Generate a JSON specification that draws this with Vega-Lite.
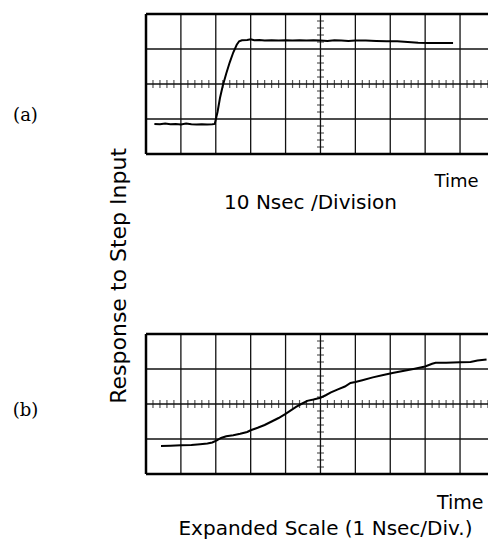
{
  "$schema": "https://vega.github.io/schema/vega-lite/v6.json",
  "background": "white",
  "padding": {"left": 12, "top": 12, "right": 0, "bottom": 0},
  "title": {"text": "Response to Step Input", "orient": "left", "anchor": "middle", "offset": -136, "dy": 0, "font": "DejaVu Sans", "fontSize": 22, "fontWeight": "normal", "color": "black", "baseline": "alphabetic"},
  "spacing": 180,
  "bounds": "flush",
  "config": {
    "view": {"stroke": null},
    "axis": {"labels": false, "ticks": false, "domain": true, "domainOpacity": 0, "grid": false, "titleColor": "black", "titleFontWeight": "normal"}
  },
  "vconcat": [
    {
      "width": 343,
      "height": 140,
      "title": {"text": "10 Nsec /Division", "orient": "bottom", "anchor": "middle", "offset": 3, "dx": -7, "font": "DejaVu Sans", "fontSize": 20, "fontWeight": "normal", "color": "black"},
      "layer": [
        {
          "data": {"values": [{"x": 1}, {"x": 2}, {"x": 3}, {"x": 4}, {"x": 5}, {"x": 6}, {"x": 7}, {"x": 8}, {"x": 9}]},
          "mark": {"type": "rule", "color": "#111", "strokeWidth": 1.3},
          "encoding": {"x": {"field": "x", "type": "quantitative", "scale": {"domain": [0, 9.83], "nice": false, "zero": false},
            "axis": {"title": "Time", "titleX": 332, "titleY": 32, "titleAlign": "right", "titleBaseline": "alphabetic", "titleFont": "DejaVu Sans", "titleFontSize": 18}}}
        },
        {
          "data": {"values": [{"y": 1}, {"y": 2}, {"y": 3}]},
          "mark": {"type": "rule", "color": "#111", "strokeWidth": 1.3},
          "encoding": {"y": {"field": "y", "type": "quantitative", "scale": {"domain": [0, 4], "nice": false, "zero": false},
            "axis": {"title": "(a)", "titleAngle": 0, "titleX": -121, "titleY": 101, "titleAlign": "center", "titleBaseline": "middle", "titleFont": "DejaVu Serif", "titleFontSize": 18}}}
        },
        {
          "data": {"values": [{"x": 0}]},
          "mark": {"type": "rule", "color": "#000", "strokeWidth": 2.5},
          "encoding": {"x": {"field": "x", "type": "quantitative"}}
        },
        {
          "data": {"values": [{"y": 0}, {"y": 4}]},
          "mark": {"type": "rule", "color": "#000", "strokeWidth": 2.5},
          "encoding": {"y": {"field": "y", "type": "quantitative"}}
        },
        {
          "data": {"values": [{"x": 0.2}, {"x": 0.4}, {"x": 0.6}, {"x": 0.8}, {"x": 1.2}, {"x": 1.4}, {"x": 1.6}, {"x": 1.8}, {"x": 2.2}, {"x": 2.4}, {"x": 2.6}, {"x": 2.8}, {"x": 3.2}, {"x": 3.4}, {"x": 3.6}, {"x": 3.8}, {"x": 4.2}, {"x": 4.4}, {"x": 4.6}, {"x": 4.8}, {"x": 5.2}, {"x": 5.4}, {"x": 5.6}, {"x": 5.8}, {"x": 6.2}, {"x": 6.4}, {"x": 6.6}, {"x": 6.8}, {"x": 7.2}, {"x": 7.4}, {"x": 7.6}, {"x": 7.8}, {"x": 8.2}, {"x": 8.4}, {"x": 8.6}, {"x": 8.8}, {"x": 9.2}, {"x": 9.4}, {"x": 9.6}, {"x": 9.8}]},
          "mark": {"type": "tick", "orient": "vertical", "size": 8, "thickness": 1.2, "color": "#111"},
          "encoding": {"x": {"field": "x", "type": "quantitative"}, "y": {"datum": 2, "type": "quantitative"}}
        },
        {
          "data": {"values": [{"y": 0.2}, {"y": 0.4}, {"y": 0.6}, {"y": 0.8}, {"y": 1.2}, {"y": 1.4}, {"y": 1.6}, {"y": 1.8}, {"y": 2.2}, {"y": 2.4}, {"y": 2.6}, {"y": 2.8}, {"y": 3.2}, {"y": 3.4}, {"y": 3.6}, {"y": 3.8}]},
          "mark": {"type": "tick", "orient": "horizontal", "size": 7, "thickness": 1.2, "color": "#111"},
          "encoding": {"y": {"field": "y", "type": "quantitative"}, "x": {"datum": 5, "type": "quantitative"}}
        },
        {
          "data": {"values": [
            {"x": 0.24, "y": 0.86}, {"x": 0.4, "y": 0.85}, {"x": 0.55, "y": 0.87}, {"x": 0.7, "y": 0.85}, {"x": 0.85, "y": 0.86}, {"x": 1.0, "y": 0.84}, {"x": 1.15, "y": 0.87}, {"x": 1.3, "y": 0.85}, {"x": 1.45, "y": 0.84}, {"x": 1.6, "y": 0.85}, {"x": 1.75, "y": 0.84}, {"x": 1.9, "y": 0.85}, {"x": 1.97, "y": 0.86},
            {"x": 2.05, "y": 1.2}, {"x": 2.12, "y": 1.6}, {"x": 2.2, "y": 1.95}, {"x": 2.3, "y": 2.3}, {"x": 2.4, "y": 2.62}, {"x": 2.5, "y": 2.9}, {"x": 2.6, "y": 3.12}, {"x": 2.67, "y": 3.22},
            {"x": 2.75, "y": 3.25}, {"x": 2.9, "y": 3.26}, {"x": 3.0, "y": 3.28}, {"x": 3.1, "y": 3.25}, {"x": 3.25, "y": 3.26}, {"x": 3.4, "y": 3.24}, {"x": 3.6, "y": 3.25}, {"x": 3.8, "y": 3.24}, {"x": 4.0, "y": 3.25}, {"x": 4.2, "y": 3.24}, {"x": 4.4, "y": 3.25}, {"x": 4.6, "y": 3.24}, {"x": 4.8, "y": 3.25}, {"x": 5.0, "y": 3.24}, {"x": 5.2, "y": 3.23}, {"x": 5.4, "y": 3.25}, {"x": 5.6, "y": 3.24}, {"x": 5.8, "y": 3.23}, {"x": 6.0, "y": 3.24}, {"x": 6.3, "y": 3.24}, {"x": 6.6, "y": 3.23}, {"x": 6.9, "y": 3.22}, {"x": 7.2, "y": 3.22}, {"x": 7.5, "y": 3.2}, {"x": 7.8, "y": 3.18}, {"x": 8.1, "y": 3.17}, {"x": 8.4, "y": 3.17}, {"x": 8.8, "y": 3.17}
          ]},
          "mark": {"type": "line", "color": "#000", "strokeWidth": 2},
          "encoding": {"x": {"field": "x", "type": "quantitative"}, "y": {"field": "y", "type": "quantitative"}}
        }
      ]
    },
    {
      "width": 343,
      "height": 140,
      "title": {"text": "Expanded Scale (1 Nsec/Div.)", "orient": "bottom", "anchor": "middle", "offset": 7, "dx": 8, "font": "DejaVu Sans", "fontSize": 20, "fontWeight": "normal", "color": "black"},
      "layer": [
        {
          "data": {"values": [{"x": 1}, {"x": 2}, {"x": 3}, {"x": 4}, {"x": 5}, {"x": 6}, {"x": 7}, {"x": 8}, {"x": 9}]},
          "mark": {"type": "rule", "color": "#111", "strokeWidth": 1.3},
          "encoding": {"x": {"field": "x", "type": "quantitative", "scale": {"domain": [0, 9.83], "nice": false, "zero": false},
            "axis": {"title": "Time", "titleX": 337, "titleY": 34, "titleAlign": "right", "titleBaseline": "alphabetic", "titleFont": "DejaVu Sans", "titleFontSize": 19}}}
        },
        {
          "data": {"values": [{"y": 1}, {"y": 2}, {"y": 3}]},
          "mark": {"type": "rule", "color": "#111", "strokeWidth": 1.3},
          "encoding": {"y": {"field": "y", "type": "quantitative", "scale": {"domain": [0, 4], "nice": false, "zero": false},
            "axis": {"title": "(b)", "titleAngle": 0, "titleX": -121, "titleY": 76, "titleAlign": "center", "titleBaseline": "middle", "titleFont": "DejaVu Serif", "titleFontSize": 18}}}
        },
        {
          "data": {"values": [{"x": 0}]},
          "mark": {"type": "rule", "color": "#000", "strokeWidth": 2.5},
          "encoding": {"x": {"field": "x", "type": "quantitative"}}
        },
        {
          "data": {"values": [{"y": 0}, {"y": 4}]},
          "mark": {"type": "rule", "color": "#000", "strokeWidth": 2.5},
          "encoding": {"y": {"field": "y", "type": "quantitative"}}
        },
        {
          "data": {"values": [{"x": 0.2}, {"x": 0.4}, {"x": 0.6}, {"x": 0.8}, {"x": 1.2}, {"x": 1.4}, {"x": 1.6}, {"x": 1.8}, {"x": 2.2}, {"x": 2.4}, {"x": 2.6}, {"x": 2.8}, {"x": 3.2}, {"x": 3.4}, {"x": 3.6}, {"x": 3.8}, {"x": 4.2}, {"x": 4.4}, {"x": 4.6}, {"x": 4.8}, {"x": 5.2}, {"x": 5.4}, {"x": 5.6}, {"x": 5.8}, {"x": 6.2}, {"x": 6.4}, {"x": 6.6}, {"x": 6.8}, {"x": 7.2}, {"x": 7.4}, {"x": 7.6}, {"x": 7.8}, {"x": 8.2}, {"x": 8.4}, {"x": 8.6}, {"x": 8.8}, {"x": 9.2}, {"x": 9.4}, {"x": 9.6}, {"x": 9.8}]},
          "mark": {"type": "tick", "orient": "vertical", "size": 8, "thickness": 1.2, "color": "#111"},
          "encoding": {"x": {"field": "x", "type": "quantitative"}, "y": {"datum": 2, "type": "quantitative"}}
        },
        {
          "data": {"values": [{"y": 0.2}, {"y": 0.4}, {"y": 0.6}, {"y": 0.8}, {"y": 1.2}, {"y": 1.4}, {"y": 1.6}, {"y": 1.8}, {"y": 2.2}, {"y": 2.4}, {"y": 2.6}, {"y": 2.8}, {"y": 3.2}, {"y": 3.4}, {"y": 3.6}, {"y": 3.8}]},
          "mark": {"type": "tick", "orient": "horizontal", "size": 7, "thickness": 1.2, "color": "#111"},
          "encoding": {"y": {"field": "y", "type": "quantitative"}, "x": {"datum": 5, "type": "quantitative"}}
        },
        {
          "data": {"values": [
            {"x": 0.43, "y": 0.8}, {"x": 0.7, "y": 0.81}, {"x": 1.0, "y": 0.82}, {"x": 1.3, "y": 0.83}, {"x": 1.55, "y": 0.85}, {"x": 1.76, "y": 0.87}, {"x": 1.9, "y": 0.9}, {"x": 2.03, "y": 0.96}, {"x": 2.15, "y": 1.03}, {"x": 2.3, "y": 1.08}, {"x": 2.5, "y": 1.11}, {"x": 2.7, "y": 1.15}, {"x": 2.9, "y": 1.2}, {"x": 3.0, "y": 1.25}, {"x": 3.2, "y": 1.32}, {"x": 3.4, "y": 1.4}, {"x": 3.6, "y": 1.5}, {"x": 3.8, "y": 1.6}, {"x": 4.0, "y": 1.72}, {"x": 4.15, "y": 1.82}, {"x": 4.3, "y": 1.92}, {"x": 4.45, "y": 2.0}, {"x": 4.62, "y": 2.09}, {"x": 4.8, "y": 2.13}, {"x": 5.0, "y": 2.18}, {"x": 5.15, "y": 2.25}, {"x": 5.3, "y": 2.33}, {"x": 5.5, "y": 2.42}, {"x": 5.7, "y": 2.5}, {"x": 5.86, "y": 2.6}, {"x": 6.0, "y": 2.63}, {"x": 6.2, "y": 2.68}, {"x": 6.5, "y": 2.76}, {"x": 6.8, "y": 2.83}, {"x": 7.1, "y": 2.89}, {"x": 7.4, "y": 2.95}, {"x": 7.7, "y": 3.01}, {"x": 8.0, "y": 3.07}, {"x": 8.2, "y": 3.15}, {"x": 8.3, "y": 3.18}, {"x": 8.6, "y": 3.18}, {"x": 9.0, "y": 3.19}, {"x": 9.3, "y": 3.2}, {"x": 9.5, "y": 3.24}, {"x": 9.76, "y": 3.27}
          ]},
          "mark": {"type": "line", "color": "#000", "strokeWidth": 2},
          "encoding": {"x": {"field": "x", "type": "quantitative"}, "y": {"field": "y", "type": "quantitative"}}
        }
      ]
    }
  ]
}
